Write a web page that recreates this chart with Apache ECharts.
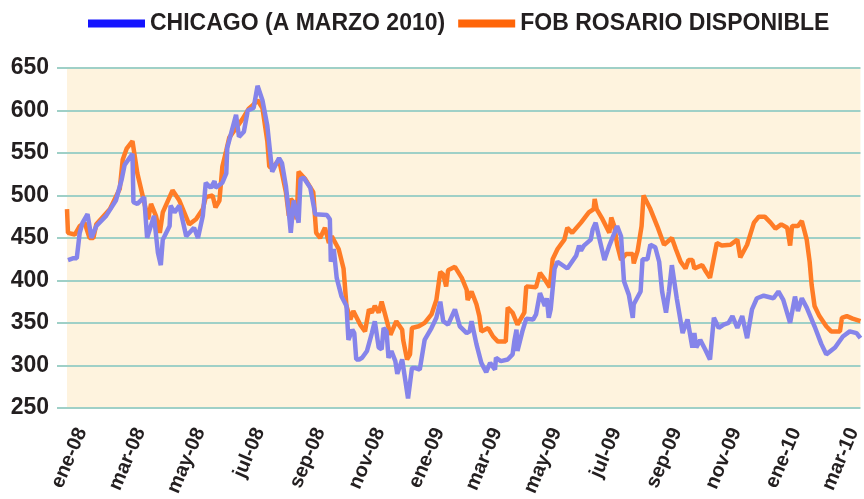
<!DOCTYPE html>
<html><head><meta charset="utf-8">
<script src="https://cdn.jsdelivr.net/npm/echarts@6/dist/echarts.min.js"></script>
<style>html,body{margin:0;padding:0;background:#fff}#c{width:864px;height:499px}</style>
</head><body><div id="c"></div>
<script>
// ---- data ----
const monthNames = ['ene','feb','mar','abr','may','jun','jul','ago','sep','oct','nov','dic'];
const axisStart = '2007-12-17';
const axisEnd = '2010-03-08';
const yMin = 250, yMax = 650, yStep = 50;
const seriesNames = ['CHICAGO (A MARZO 2010)', 'FOB ROSARIO DISPONIBLE'];

const fobDates = ['2007-12-17','2007-12-18','2007-12-25','2007-12-30','2008-01-04','2008-01-09','2008-01-13','2008-01-16','2008-01-30','2008-02-09','2008-02-12','2008-02-16','2008-02-22','2008-02-27','2008-03-05','2008-03-09','2008-03-12','2008-03-17','2008-03-21','2008-03-24','2008-04-03','2008-04-10','2008-04-20','2008-04-27','2008-05-04','2008-05-07','2008-05-14','2008-05-17','2008-05-21','2008-05-24','2008-05-28','2008-05-31','2008-06-13','2008-06-20','2008-06-25','2008-06-29','2008-07-04','2008-07-09','2008-07-11','2008-07-14','2008-07-21','2008-07-24','2008-07-28','2008-07-31','2008-08-02','2008-08-05','2008-08-08','2008-08-10','2008-08-17','2008-08-25','2008-08-28','2008-09-01','2008-09-06','2008-09-10','2008-09-13','2008-09-20','2008-09-25','2008-09-28','2008-10-02','2008-10-05','2008-10-12','2008-10-17','2008-10-21','2008-10-24','2008-10-27','2008-10-31','2008-11-03','2008-11-07','2008-11-12','2008-11-18','2008-11-24','2008-11-25','2008-11-29','2008-12-02','2008-12-04','2008-12-11','2008-12-17','2008-12-24','2008-12-29','2009-01-02','2009-01-05','2009-01-08','2009-01-10','2009-01-17','2009-01-24','2009-01-29','2009-01-30','2009-02-03','2009-02-08','2009-02-11','2009-02-13','2009-02-20','2009-02-25','2009-03-02','2009-03-10','2009-03-12','2009-03-17','2009-03-22','2009-03-29','2009-03-31','2009-04-10','2009-04-14','2009-04-19','2009-04-24','2009-04-27','2009-05-02','2009-05-09','2009-05-12','2009-05-17','2009-05-26','2009-06-03','2009-06-08','2009-06-09','2009-06-11','2009-06-17','2009-06-24','2009-06-26','2009-06-29','2009-07-02','2009-07-06','2009-07-11','2009-07-18','2009-07-19','2009-07-23','2009-07-27','2009-07-29','2009-08-05','2009-08-12','2009-08-19','2009-08-27','2009-08-31','2009-09-05','2009-09-10','2009-09-13','2009-09-17','2009-09-19','2009-09-27','2009-09-30','2009-10-05','2009-10-12','2009-10-17','2009-10-26','2009-11-02','2009-11-05','2009-11-12','2009-11-19','2009-11-24','2009-11-30','2009-12-06','2009-12-11','2009-12-17','2009-12-23','2009-12-26','2009-12-28','2010-01-03','2010-01-07','2010-01-12','2010-01-15','2010-01-17','2010-01-20','2010-01-25','2010-02-01','2010-02-06','2010-02-15','2010-02-17','2010-02-22','2010-02-28','2010-03-08'];
const fobValues = [484,456,454,464,468,450,450,466,484,508,542,555,564,526,492,472,490,476,456,480,506,494,466,472,484,498,500,486,494,534,553,568,589,602,607,612,603,564,534,532,542,526,504,476,496,492,472,528,519,504,456,450,462,444,452,437,414,370,354,364,348,340,366,362,370,362,375,358,336,352,342,330,307,313,344,346,350,360,377,410,407,393,412,416,403,389,377,387,372,358,340,344,334,328,328,368,362,348,362,393,392,409,401,392,425,437,448,462,456,468,480,484,496,484,472,456,474,464,442,424,431,431,420,435,464,500,484,464,442,450,437,422,414,424,424,414,418,412,403,444,441,442,448,427,442,468,475,475,468,461,466,462,441,464,464,470,448,422,395,370,358,346,340,340,356,358,355,352];

const chicagoDates = ['2007-12-18','2007-12-23','2007-12-27','2007-12-30','2008-01-02','2008-01-07','2008-01-11','2008-01-13','2008-01-16','2008-01-26','2008-02-05','2008-02-11','2008-02-14','2008-02-22','2008-02-23','2008-02-27','2008-03-05','2008-03-08','2008-03-10','2008-03-15','2008-03-19','2008-03-22','2008-03-24','2008-03-31','2008-04-01','2008-04-05','2008-04-10','2008-04-17','2008-04-25','2008-04-29','2008-05-04','2008-05-07','2008-05-12','2008-05-16','2008-05-17','2008-05-24','2008-05-28','2008-05-29','2008-06-07','2008-06-10','2008-06-15','2008-06-19','2008-06-25','2008-06-29','2008-07-04','2008-07-09','2008-07-12','2008-07-14','2008-07-21','2008-07-24','2008-07-28','2008-07-31','2008-08-02','2008-08-05','2008-08-10','2008-08-12','2008-08-15','2008-08-22','2008-08-27','2008-09-08','2008-09-11','2008-09-12','2008-09-15','2008-09-18','2008-09-23','2008-09-28','2008-09-30','2008-10-04','2008-10-06','2008-10-08','2008-10-11','2008-10-14','2008-10-19','2008-10-24','2008-10-27','2008-10-31','2008-11-03','2008-11-05','2008-11-08','2008-11-10','2008-11-13','2008-11-17','2008-11-19','2008-11-24','2008-11-27','2008-11-30','2008-12-04','2008-12-07','2008-12-12','2008-12-17','2008-12-24','2008-12-29','2009-01-02','2009-01-05','2009-01-10','2009-01-17','2009-01-22','2009-01-29','2009-02-01','2009-02-03','2009-02-08','2009-02-13','2009-02-18','2009-02-22','2009-02-27','2009-02-28','2009-03-05','2009-03-12','2009-03-17','2009-03-19','2009-03-21','2009-03-22','2009-03-27','2009-03-31','2009-04-07','2009-04-10','2009-04-14','2009-04-19','2009-04-21','2009-04-23','2009-04-25','2009-04-29','2009-05-02','2009-05-12','2009-05-21','2009-05-24','2009-05-26','2009-05-29','2009-06-05','2009-06-07','2009-06-10','2009-06-19','2009-06-24','2009-07-02','2009-07-06','2009-07-09','2009-07-14','2009-07-18','2009-07-19','2009-07-26','2009-07-28','2009-08-02','2009-08-05','2009-08-10','2009-08-14','2009-08-17','2009-08-21','2009-08-24','2009-08-27','2009-09-01','2009-09-07','2009-09-12','2009-09-17','2009-09-19','2009-09-21','2009-09-25','2009-09-30','2009-10-05','2009-10-09','2009-10-14','2009-10-19','2009-10-24','2009-10-28','2009-11-02','2009-11-07','2009-11-12','2009-11-17','2009-11-22','2009-11-29','2009-12-09','2009-12-14','2009-12-19','2009-12-26','2009-12-31','2010-01-03','2010-01-07','2010-01-12','2010-01-20','2010-01-27','2010-02-01','2010-02-10','2010-02-18','2010-02-25','2010-03-04','2010-03-08'];
const chicagoValues = [424,426,426,456,468,478,450,448,464,476,494,519,536,549,492,490,498,450,450,476,433,418,448,464,488,480,488,452,462,450,476,515,509,517,509,515,526,556,595,569,575,600,603,629,612,582,549,528,544,538,511,480,456,494,468,519,521,509,478,477,472,422,437,403,381,370,330,342,338,307,307,309,317,338,352,321,319,344,340,309,317,305,290,307,284,261,297,297,295,330,344,356,375,352,348,366,346,338,340,352,325,303,292,303,295,309,305,307,313,330,342,317,340,355,354,360,385,370,379,356,366,414,422,414,429,441,435,441,448,460,468,424,441,464,452,399,383,356,372,387,425,425,442,439,422,387,362,387,418,379,338,354,321,338,321,330,319,307,356,344,348,350,358,344,358,332,366,379,382,379,387,377,350,381,364,379,368,346,325,313,321,334,340,338,332];

// ---- build ----
const days = [];
{
  const s = Date.parse(axisStart + 'T00:00:00Z'), e = Date.parse(axisEnd + 'T00:00:00Z');
  for (let t = s; t <= e; t += 86400000) days.push(new Date(t).toISOString().slice(0, 10));
}
const dayIndex = {};
days.forEach((d, i) => dayIndex[d] = i);
const pairs = (ds, vs) => ds.map((d, i) => [dayIndex[d], vs[i]]);
const isLabelDay = v => v.slice(8) === '01' && (+v.slice(5, 7)) % 2 === 1;
const fmtLabel = v => monthNames[+v.slice(5, 7) - 1] + '-' + v.slice(2, 4);

const grid = '#9fd0c7';
const font = '"Liberation Sans", Arial, sans-serif';
const chart = echarts.init(document.getElementById('c'), null, {renderer: 'canvas'});
chart.setOption({
  animation: false,
  backgroundColor: '#ffffff',
  textStyle: {fontFamily: font},
  legend: {
    top: 7, left: 83, itemWidth: 57, itemHeight: 8, itemGap: 13, icon: 'rect',
    textStyle: {fontSize: 23, fontWeight: 'bold', color: '#231f20', fontFamily: font},
    data: [
      {name: seriesNames[0], itemStyle: {color: '#1414ff'}, lineStyle: {color: '#1414ff'}},
      {name: seriesNames[1], itemStyle: {color: '#ff6508'}, lineStyle: {color: '#ff6508'}}
    ]
  },
  grid: {left: 67, right: 0, top: 68, bottom: 86, show: true, backgroundColor: '#fef3de', borderWidth: 0, containLabel: false},
  xAxis: {
    type: 'category', data: days, boundaryGap: false,
    axisLine: {show: false}, axisTick: {show: false}, splitLine: {show: false},
    axisLabel: {
      interval: (i, v) => isLabelDay(v), formatter: v => fmtLabel(v),
      rotate: 67, margin: 21, fontSize: 20, fontWeight: 'bold', color: '#231f20', fontFamily: font
    }
  },
  yAxis: {
    type: 'value', min: yMin, max: yMax, interval: yStep,
    axisLine: {show: false},
    axisTick: {show: true, length: 10, lineStyle: {color: grid, width: 2}},
    splitLine: {show: true, lineStyle: {color: grid, width: 2}},
    axisLabel: {margin: 18, fontSize: 23, fontWeight: 'bold', color: '#231f20', fontFamily: font}
  },
  series: [
    {name: seriesNames[1], type: 'line', data: pairs(fobDates, fobValues), showSymbol: false, symbol: 'none',
     lineStyle: {color: '#ff7c26', width: 4.5}, itemStyle: {color: '#ff7c26'}, z: 2},
    {name: seriesNames[0], type: 'line', data: pairs(chicagoDates, chicagoValues), showSymbol: false, symbol: 'none',
     lineStyle: {color: '#8584ea', width: 4.5}, itemStyle: {color: '#8584ea'}, z: 3}
  ]
});
</script></body></html>
